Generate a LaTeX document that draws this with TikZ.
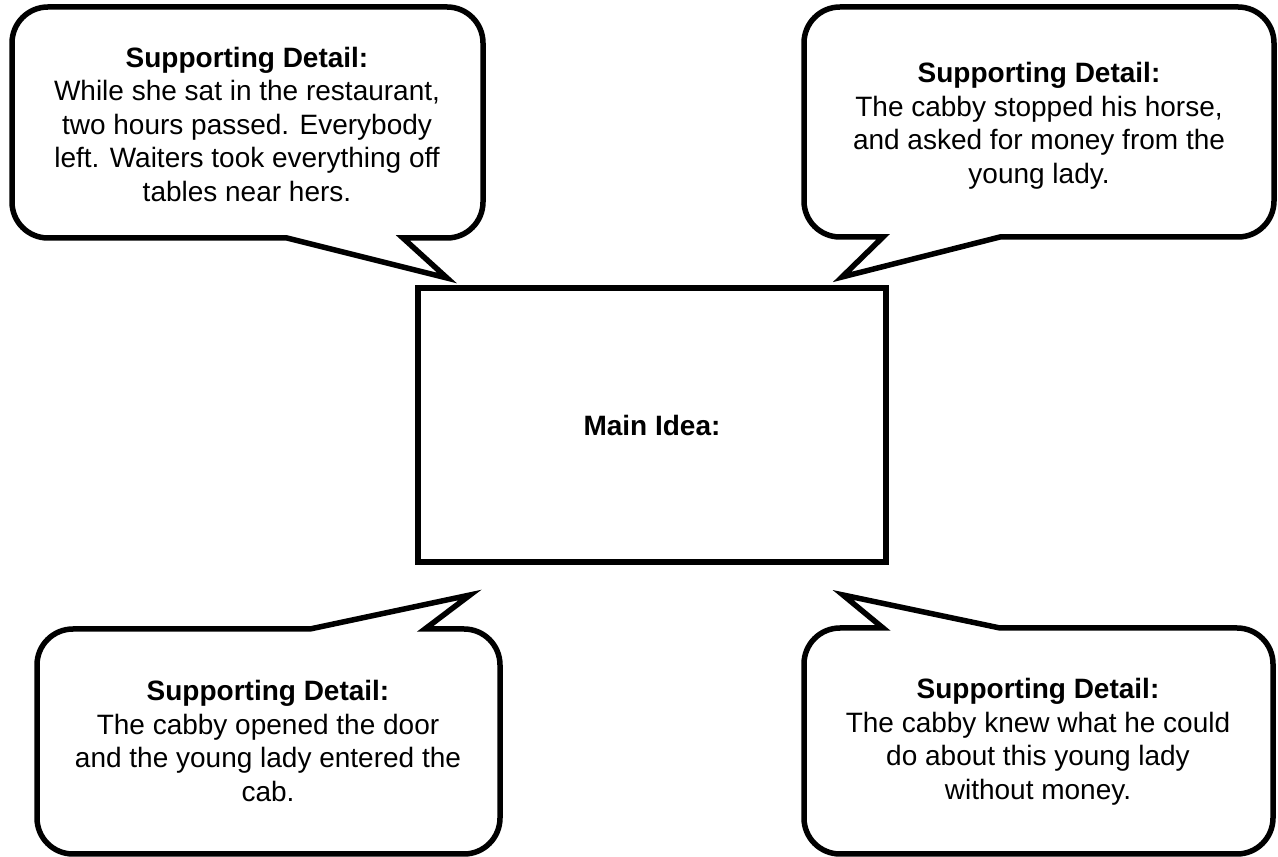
\documentclass[tikz,border=0pt]{standalone}
\usepackage{fontspec}
\setmainfont{Liberation Sans}
\begin{document}
\begin{tikzpicture}[x=1pt,y=1pt,
  callout/.style={draw=black,line width=5.5pt,fill=white,line join=miter,miter limit=20},
  mainbox/.style={draw=black,line width=5.5pt,minimum width=468pt,minimum height=274pt,inner sep=0pt,font=\fontsize{28}{33.5}\selectfont\bfseries},
  detail/.style={align=center,inner sep=0pt,font=\fontsize{28}{33.5}\selectfont}]
\useasboundingbox (0,0) rectangle (1278,857);
% top-left callout
\draw[callout] (48,850) -- (447,850) arc[start angle=90,end angle=0,radius=36]
  -- (483,655) arc[start angle=0,end angle=-90,radius=36]
  -- (403,619) -- (447,579) -- (287,619)
  -- (48,619) arc[start angle=270,end angle=180,radius=36]
  -- (12,814) arc[start angle=180,end angle=90,radius=36] -- cycle;
% top-right callout
\draw[callout] (840,850) -- (1238,850) arc[start angle=90,end angle=0,radius=36]
  -- (1274,656) arc[start angle=0,end angle=-90,radius=36]
  -- (1000,620) -- (842,580) -- (883,620)
  -- (840,620) arc[start angle=270,end angle=180,radius=36]
  -- (804,814) arc[start angle=180,end angle=90,radius=36] -- cycle;
% bottom-left callout
\draw[callout] (73,228) -- (310,228) -- (470,262) -- (425,228)
  -- (464,228) arc[start angle=90,end angle=0,radius=36]
  -- (500,39) arc[start angle=0,end angle=-90,radius=36]
  -- (73,3) arc[start angle=270,end angle=180,radius=36]
  -- (37,192) arc[start angle=180,end angle=90,radius=36] -- cycle;
% bottom-right callout
\draw[callout] (840,229) -- (883,229) -- (843,262) -- (1000,229)
  -- (1237,229) arc[start angle=90,end angle=0,radius=36]
  -- (1273,39) arc[start angle=0,end angle=-90,radius=36]
  -- (840,3) arc[start angle=270,end angle=180,radius=36]
  -- (804,193) arc[start angle=180,end angle=90,radius=36] -- cycle;
% main box
\node[mainbox] (main) at (652,432) {Main Idea:};
% texts
\node[detail] (tl) at (247,733) {\textbf{Supporting Detail:}\\While she sat in the restaurant,\\two hours passed. Everybody\\left. Waiters took everything off\\tables near hers.};
\node[detail] (tr) at (1039,731) {\textbf{Supporting Detail:}\\The cabby stopped his horse,\\and asked for money from the\\young lady.};
\node[detail] (bl) at (268,116) {\textbf{Supporting Detail:}\\The cabby opened the door\\and the young lady entered the\\cab.};
\node[detail] (br) at (1038,115) {\textbf{Supporting Detail:}\\The cabby knew what he could\\do about this young lady\\without money.};
\end{tikzpicture}
\end{document}
